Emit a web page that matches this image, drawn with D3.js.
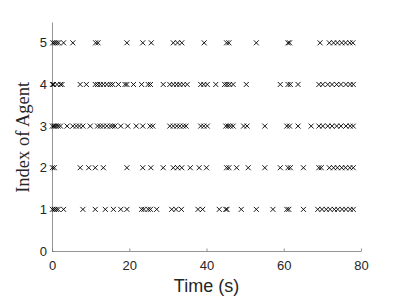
<!DOCTYPE html>
<html>
<head>
<meta charset="utf-8">
<script src="https://cdn.jsdelivr.net/npm/d3@7"></script>
<style>
  body { margin: 0; background: #fff; }
  svg { display: block; }
</style>
</head>
<body>
<div id="chart"></div>
<script>
'use strict';

/*** Data: event times (s) for each agent */
const agent1 = [0.1, 0.6, 1.1, 1.6, 3.0, 8.0, 11.2, 13.8, 15.9, 17.8, 19.4, 23.2, 23.8, 24.9, 25.5,
                27.1, 31.0, 32.1, 33.5, 37.8, 39.0, 43.3, 45.0, 45.3, 49.0, 52.9, 57.2, 60.8, 61.3,
                65.1, 68.8, 69.9, 71.0, 72.0, 73.1, 74.0, 75.1, 76.1, 77.2, 78.0];
const agent2 = [0.1, 0.6, 7.3, 9.5, 11.2, 13.3, 19.4, 23.5, 25.6, 28.8, 31.4, 32.5, 33.6, 35.8,
                38.1, 40.0, 45.2, 45.8, 47.8, 50.8, 55.1, 59.1, 61.1, 61.7, 65.1, 69.1, 69.7,
                71.8, 72.9, 73.9, 75.0, 76.0, 77.1, 78.0];
const agent3 = [0.1, 0.5, 1.0, 1.6, 2.2, 3.9, 5.4, 6.3, 7.1, 8.0, 9.9, 11.8, 12.5, 13.3, 14.2,
                15.1, 15.7, 16.3, 17.8, 19.6, 21.8, 23.5, 25.4, 26.1, 30.5, 31.4, 32.3, 33.1,
                34.0, 34.7, 38.5, 39.3, 40.2, 45.0, 45.6, 46.2, 46.9, 49.6, 50.5, 55.1, 60.8,
                61.5, 63.7, 67.1, 69.1, 70.1, 71.4, 72.5, 73.7, 74.8, 76.1, 77.2, 78.0];
const agent4 = [0.1, 0.4, 1.3, 2.2, 2.6, 7.3, 8.9, 11.2, 11.8, 12.5, 13.3, 14.2, 15.1, 15.7,
                17.2, 18.9, 19.4, 21.1, 23.2, 24.9, 25.5, 28.8, 30.5, 31.4, 32.3, 33.1, 34.0,
                35.0, 38.5, 39.3, 40.2, 42.4, 44.7, 45.3, 46.0, 46.9, 50.3, 59.1, 61.1, 61.7,
                63.7, 69.1, 70.1, 71.4, 72.5, 73.7, 74.8, 76.1, 77.2, 78.0];
const agent5 = [0.2, 0.7, 1.2, 1.7, 3.0, 5.4, 11.3, 11.9, 19.4, 23.5, 25.7, 31.4, 32.5, 33.6,
                39.4, 45.2, 45.8, 52.9, 61.1, 61.5, 69.4, 71.8, 72.9, 73.9, 75.0, 76.0, 77.1, 77.9];
const agents = [agent1, agent2, agent3, agent4, agent5];

const xTicks = [0, 20, 40, 60, 80];
const yTicks = [0, 1, 2, 3, 4, 5];

/*** Dimensions */
const w = 399;
const h = 299;
const margin = { left: 52, right: 38, top: 22, bottom: 48 };

const svg = d3.select("#chart")
    .append("svg")
    .attr("width", w)
    .attr("height", h);

/*** Scales */
const xScale = d3.scaleLinear()
    .domain([0, 80])
    .range([margin.left, w - margin.right]);

const yScale = d3.scaleLinear()
    .domain([0, 5.5])
    .range([h - margin.bottom, margin.top]);

/*** Axes (ticks point inward, like MATLAB) */
const xAxis = d3.axisBottom(xScale)
    .tickValues(xTicks)
    .tickFormat(d3.format("d"))
    .tickSizeInner(-2.5)
    .tickSizeOuter(0)
    .tickPadding(10);

const yAxis = d3.axisLeft(yScale)
    .tickValues(yTicks)
    .tickFormat(d3.format("d"))
    .tickSizeInner(-2.5)
    .tickSizeOuter(0)
    .tickPadding(5);

const gx = svg.append("g")
    .attr("transform", "translate(0," + (h - margin.bottom) + ")")
    .call(xAxis);

const gy = svg.append("g")
    .attr("transform", "translate(" + margin.left + ",0)")
    .call(yAxis);

[gx, gy].forEach(g => {
    g.select(".domain").attr("stroke", "#7a7a7a").attr("stroke-width", 0.8);
    g.selectAll(".tick line").attr("stroke", "#7a7a7a").attr("stroke-width", 0.8);
    g.selectAll(".tick text")
        .attr("fill", "#262626")
        .style("font-family", "'Liberation Sans', Arial, sans-serif")
        .style("font-size", "13px");
});

/*** Markers */
const cross = "M-2.5,-2.5L2.5,2.5M-2.5,2.5L2.5,-2.5";

agents.forEach((times, i) => {
    svg.append("g")
        .selectAll("path")
        .data(times)
        .enter()
        .append("path")
        .attr("d", cross)
        .attr("transform", d => "translate(" + xScale(d) + "," + yScale(i + 1) + ")")
        .attr("fill", "none")
        .attr("stroke", "#000")
        .attr("stroke-width", 0.9);
});

/*** Labels */
svg.append("text")
    .attr("x", (xScale(0) + xScale(80)) / 2)
    .attr("y", 292)
    .attr("text-anchor", "middle")
    .attr("fill", "#262626")
    .style("font-family", "'Liberation Sans', Arial, sans-serif")
    .style("font-size", "18px")
    .text("Time (s)");

svg.append("text")
    .attr("transform", "translate(29," + yScale(2.73) + ") rotate(-90)")
    .attr("text-anchor", "middle")
    .attr("fill", "#262626")
    .style("font-family", "'Liberation Serif', 'DejaVu Serif', serif")
    .style("font-size", "18.5px")
    .text("Index of Agent");
</script>
</body>
</html>
